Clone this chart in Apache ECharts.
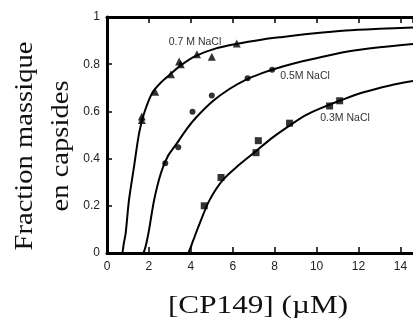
<!DOCTYPE html>
<html><head><meta charset="utf-8">
<script src="https://cdn.jsdelivr.net/npm/echarts@6/dist/echarts.min.js"></script>
<style>html,body{margin:0;padding:0;background:#fff}#c{width:413px;height:320px}</style>
</head><body><div id="c"></div>
<script>
// Fitted curves [CP149 (µM), fraction]
const curve07 = [[0.65,0],[0.72,0],[0.8,0.04],[0.89,0.083],[1.05,0.225],[1.29,0.366],[1.53,0.507],[1.77,0.592],[2.17,0.68],[2.6,0.725],[3.05,0.76],[3.52,0.795],[4.24,0.835],[5.2,0.867],[6.16,0.886],[7.43,0.905],[8.23,0.914],[9.8,0.93],[11.4,0.943],[13.0,0.95],[14.6,0.955]];
const curve05 = [[1.45,0],[1.7,0],[1.8,0.015],[1.9,0.05],[2.01,0.1],[2.25,0.225],[2.57,0.338],[2.89,0.408],[3.3,0.46],[3.8,0.525],[4.24,0.573],[5.04,0.643],[5.84,0.695],[6.64,0.735],[7.43,0.763],[8.07,0.782],[9.0,0.805],[9.82,0.822],[11.42,0.853],[13.0,0.872],[14.6,0.886]];
const curve03 = [[3.45,0],[3.85,0],[3.95,0.015],[4.1,0.05],[4.4,0.12],[4.88,0.222],[5.52,0.309],[6.32,0.375],[7.11,0.432],[7.91,0.49],[8.71,0.54],[9.51,0.585],[10.3,0.617],[11.1,0.645],[12.2,0.68],[13.5,0.71],[14.6,0.729]];
// Measured points
const pts07 = [[1.66,0.578],[1.66,0.564],[2.3,0.683],[3.05,0.757],[3.44,0.811],[3.52,0.80],[4.29,0.842],[5.0,0.832],[6.19,0.888]];
const pts05 = [[2.78,0.38],[3.4,0.448],[4.08,0.599],[5.0,0.667],[6.71,0.74],[7.88,0.777]];
const pts03 = [[4.64,0.2],[5.44,0.32],[7.11,0.425],[7.22,0.476],[8.71,0.55],[10.62,0.623],[11.1,0.645]];
const curveLabels = ['0.7 M NaCl','0.5M NaCl','0.3M NaCl'];
const yTitle = 'Fraction massique\nen capsides';
const xTitle = '[CP149] (µM)';

const chart = echarts.init(document.getElementById('c'), null, {renderer:'canvas'});
const lineStyle = {color:'#000', width:2};
const tickLab = {color:'#222', fontFamily:'Liberation Sans, Arial', fontSize:12};
const curve = d => ({type:'line', data:d, showSymbol:false, smooth:0.3, lineStyle, silent:true, z:2});
const pts = (d,sym,size) => ({type:'scatter', data:d, symbol:sym, symbolSize:size, itemStyle:{color:'#000'}, z:3});
const txt = (x,y,text,font,fill,rot,sx) => ({type:'text', x, y, rotation:rot||0, scaleX:sx||1,
  style:{text, font, fill, align:'center', verticalAlign:'middle', textAlign:'center', textVerticalAlign:'middle', lineHeight:36}});
const serif = '26px "Liberation Serif", "Times New Roman", serif';
const small = '10.5px "Liberation Sans", Arial';
chart.setOption({
  animation:false,
  grid:{left:107, top:17, right:0, bottom:67},
  xAxis:[
    {type:'value', min:0, max:14.6, interval:2, position:'bottom',
     axisLine:{show:true, lineStyle:{color:'#000', width:3}},
     axisTick:{show:true, inside:true, length:6, lineStyle:{color:'#000', width:1.5}},
     axisLabel:Object.assign({margin:8, showMaxLabel:false}, tickLab),
     splitLine:{show:false}},
    {type:'value', min:0, max:14.6, interval:2, position:'top',
     axisLine:{show:true, lineStyle:{color:'#000', width:3}},
     axisTick:{show:true, inside:true, length:6, lineStyle:{color:'#000', width:1.5}},
     axisLabel:{show:false}, splitLine:{show:false}}
  ],
  yAxis:{type:'value', min:0, max:1, interval:0.2,
    axisLine:{show:true, lineStyle:{color:'#000', width:3}},
    axisTick:{show:true, inside:true, length:5, lineStyle:{color:'#000', width:1.5}},
    axisLabel:Object.assign({margin:7, formatter:v => (v===0?'0':v===1?'1':v.toFixed(1))}, tickLab),
    splitLine:{show:false}},
  series:[curve(curve07), curve(curve05), curve(curve03),
    pts(pts07,'triangle',8), pts(pts05,'circle',6), pts(pts03,'rect',7)],
  graphic:[
    txt(43,146,yTitle,serif,'#111',Math.PI/2,1.1),
    txt(258,306,xTitle,serif,'#111',0,1.2),
    txt(195,42,curveLabels[0],small,'#333'),
    txt(305,76,curveLabels[1],small,'#333'),
    txt(345,118,curveLabels[2],small,'#333')
  ]
});
</script></body></html>
